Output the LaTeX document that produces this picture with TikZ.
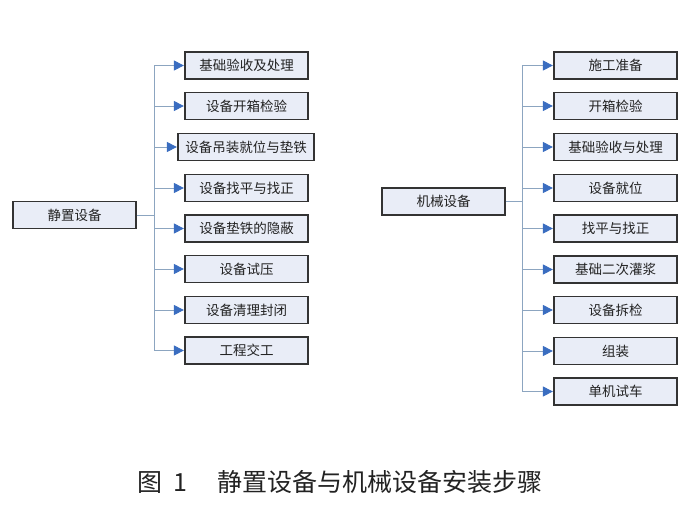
\documentclass[tikz,border=0pt]{standalone}
\usepackage{fontspec}
\newfontfamily\cjk{Noto Sans CJK SC}
\usetikzlibrary{arrows.meta}
\definecolor{boxfill}{HTML}{E9EDF7}
\definecolor{boxdraw}{HTML}{333333}
\definecolor{linec}{HTML}{8CA5C0}
\definecolor{arrowc}{HTML}{3A6DC0}
\definecolor{textc}{HTML}{222222}
\tikzset{
  stepbox/.style={draw=boxdraw, line width=1.25pt, fill=boxfill, minimum width=123pt, minimum height=27pt, inner sep=0pt, text=textc, font=\cjk\fontsize{13.5}{14}\selectfont},
  conn/.style={draw=linec, line width=0.9pt},
  arr/.style={conn, -{Triangle[length=10pt,width=10pt,fill=arrowc,color=arrowc]}, shorten >=0.5pt}
}
\begin{document}
\begin{tikzpicture}[x=1pt,y=-1pt]
\useasboundingbox (0,0) rectangle (700,517);
% left group
\node[stepbox] (L) at (74.5,215) {静置设备};
\node[stepbox] (L1) at (246.5,65.5) {基础验收及处理};
\node[stepbox] (L2) at (246.5,106) {设备开箱检验};
\node[stepbox, minimum width=136pt] (L3) at (246,147) {设备吊装就位与垫铁};
\node[stepbox] (L4) at (246.5,188) {设备找平与找正};
\node[stepbox] (L5) at (246.5,228.5) {设备垫铁的隐蔽};
\node[stepbox] (L6) at (246.5,269) {设备试压};
\node[stepbox] (L7) at (246.5,310) {设备清理封闭};
\node[stepbox] (L8) at (246.5,350.5) {工程交工};
\coordinate (LT) at (154,215);
\draw[conn] (L.east) -- (LT);
\draw[conn] (154,65.5) -- (154,350.5);
\foreach \i in {1,...,8}{
  \draw[arr] (L\i.west -| LT) -- (L\i.west);
}
% right group
\node[stepbox] (R) at (443.5,201.5) {机械设备};
\node[stepbox] (R1) at (615.5,65.5) {施工准备};
\node[stepbox] (R2) at (615.5,106) {开箱检验};
\node[stepbox] (R3) at (615.5,147) {基础验收与处理};
\node[stepbox] (R4) at (615.5,188) {设备就位};
\node[stepbox] (R5) at (615.5,228.5) {找平与找正};
\node[stepbox] (R6) at (615.5,269.5) {基础二次灌浆};
\node[stepbox] (R7) at (615.5,310) {设备拆检};
\node[stepbox] (R8) at (615.5,351) {组装};
\node[stepbox] (R9) at (615.5,391.5) {单机试车};
\coordinate (RT) at (522,201.5);
\draw[conn] (R.east) -- (RT);
\draw[conn] (522,65.5) -- (522,391.5);
\foreach \i in {1,...,9}{
  \draw[arr] (R\i.west -| RT) -- (R\i.west);
}
% caption
\node[text=textc, font=\cjk\fontsize{25}{27}\selectfont, inner sep=0pt] (cap) at (340,482) {图\hspace{0.45em}1\hspace{1.2em}静置设备与机械设备安装步骤};
\end{tikzpicture}
\end{document}
